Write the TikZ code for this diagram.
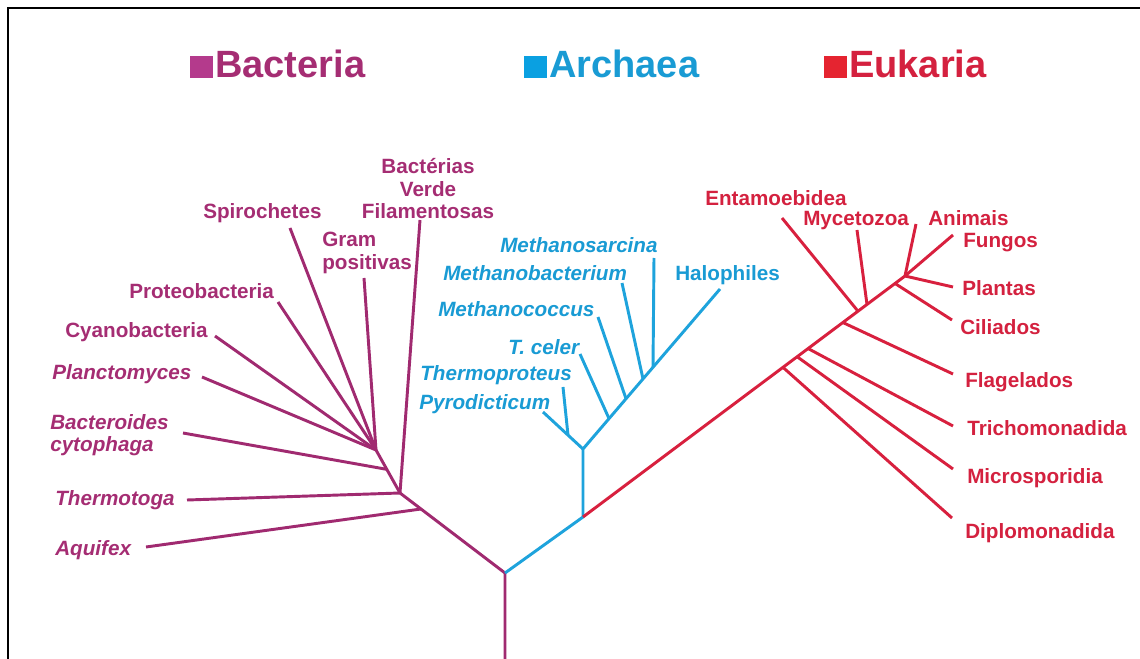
\documentclass[tikz,border=0pt]{standalone}
\usepackage{fontspec}
\setmainfont{Liberation Sans}
\usetikzlibrary{calc}
\definecolor{bact}{RGB}{160,42,112}
\definecolor{bactT}{RGB}{165,45,115}
\definecolor{bactSq}{RGB}{180,58,140}
\definecolor{arch}{RGB}{30,163,220}
\definecolor{archT}{RGB}{25,155,212}
\definecolor{archSq}{RGB}{10,160,225}
\definecolor{euk}{RGB}{216,32,62}
\definecolor{eukT}{RGB}{212,33,63}
\definecolor{eukSq}{RGB}{229,36,48}
\tikzset{
  branch/.style={line width=2.2pt},
  bline/.style={branch, draw=bact},
  aline/.style={branch, draw=arch},
  eline/.style={branch, draw=euk},
  lab/.style={font=\fontsize{15.5}{17}\selectfont\bfseries, inner sep=0pt,
              text height=11.1pt, text depth=0pt, anchor=west},
  mlab/.style={font=\fontsize{15.5}{17}\selectfont\bfseries, inner sep=0pt},
  ital/.style={font=\fontsize{15.5}{17}\selectfont\bfseries\itshape},
  blab/.style={lab, text=bactT},
  alab/.style={lab, text=archT},
  elab/.style={lab, text=eukT},
  title/.style={anchor=base west, inner sep=0pt, font=\fontsize{28.5}{30}\selectfont\bfseries}
}
\begin{document}
\begin{tikzpicture}[x=0.75pt,y=-0.75pt]
\useasboundingbox (0,0) rectangle (1140,659);
\fill[white] (0,0) rectangle (1140,659);
% frame
\draw[line width=2pt] (8,662) -- (8,8) -- (1142,8);

% titles
\node[title, text=bactT] (tB) at (190,78) {\textcolor{bactSq}{\rule{17.25pt}{16.5pt}}\hspace{1.5pt}Bacteria};
\node[title, text=archT] (tA) at (524,78) {\textcolor{archSq}{\rule{17.25pt}{16.5pt}}\hspace{1.5pt}Archaea};
\node[title, text=eukT] (tE) at (824,78) {\textcolor{eukSq}{\rule{17.25pt}{16.5pt}}\hspace{1.5pt}Eukaria};

% ---------- tree skeleton ----------
\coordinate (Rb) at (505,662);
\coordinate (R)  at (505,573);
\coordinate (B1) at (400,493);
\coordinate (B2) at (376,450);
\coordinate (J)  at (583,517);
\coordinate (A1) at (583,449);
\coordinate (H)  at (720,289);
\coordinate (P)  at (543,412);
\coordinate (E1) at (905,276);

\draw[bline] (Rb) -- (R) -- (B1) -- (B2);
\draw[aline] (R) -- (J) -- (A1) -- (H);
\draw[aline] (A1) -- (P);
\draw[eline] (J) -- (E1);

% ---------- Bacteria ----------
\node[mlab, text=bactT, align=center, anchor=north] (filam) at (428,158)
  {\fontsize{15.5}{15.75}\selectfont Bactérias\\Verde\\Filamentosas};
\node[blab] (spiro) at (203,211) {Spirochetes};
\node[mlab, text=bactT, align=left, anchor=north west] (gram) at (322,232)
  {\fontsize{15.5}{17.25}\selectfont Gram\\positivas};
\node[blab] (proteo) at (129,291) {Proteobacteria};
\node[blab] (cyano) at (65,330) {Cyanobacteria};
\node[blab, ital] (planc) at (52,372) {Planctomyces};
\node[mlab, text=bactT, ital, align=left, anchor=north west] (bacter) at (50,414)
  {\fontsize{15.5}{17.25}\selectfont\bfseries\itshape Bacteroides\\cytophaga};
\node[blab, ital] (thermotoga) at (55,498) {Thermotoga};
\node[blab, ital] (aquifex) at (55,548) {Aquifex};

\coordinate (lFilam) at (420,220);
\coordinate (lSpiro) at (290,228);
\coordinate (lGram) at (364,278);
\coordinate (lProteo) at (278,302);
\coordinate (lCyano) at (215,336);
\coordinate (lPlanc) at (202,377);
\coordinate (lBacter) at (183,433);
\coordinate (lThermotoga) at (187,500);
\coordinate (lAquifex) at (146,547);
\coordinate (jBacter) at ($(B2)!0.45!(B1)$);
\coordinate (jAquifex) at ($(R)!0.8!(B1)$);

\draw[bline] (lFilam) -- (B1);
\draw[bline] (lThermotoga) -- (B1);
\draw[bline] (lAquifex) -- (jAquifex);
\draw[bline] (lBacter) -- (jBacter);
\draw[bline] (lSpiro) -- (B2);
\draw[bline] (lGram) -- (B2);
\draw[bline] (lProteo) -- (B2);
\draw[bline] (lCyano) -- (B2);
\draw[bline] (lPlanc) -- (B2);

% ---------- Archaea ----------
\node[alab, ital] (msarc) at (500,245) {Methanosarcina};
\node[alab, ital] (mbact) at (443,273) {Methanobacterium};
\node[alab, ital] (mcocc) at (438,309) {Methanococcus};
\node[alab, ital] (tceler) at (508,347) {T. celer};
\node[alab, ital] (tprot) at (420,373) {Thermoproteus};
\node[alab, ital] (pyro) at (419,402) {Pyrodicticum};
\node[alab] (halo) at (675,273) {Halophiles};

\coordinate (lSarc) at (654,258);
\coordinate (lMbact) at (622,283);
\coordinate (lCocc) at (598,317);
\coordinate (lCeler) at (580,354);
\coordinate (lTprot) at (563,387);
\coordinate (jSarc) at ($(A1)!0.511!(H)$);
\coordinate (jMbact) at ($(A1)!0.438!(H)$);
\coordinate (jCocc) at ($(A1)!0.314!(H)$);
\coordinate (jCeler) at ($(A1)!0.19!(H)$);
\coordinate (jTprot) at ($(A1)!0.375!(P)$);

\draw[aline] (lSarc) -- (jSarc);
\draw[aline] (lMbact) -- (jMbact);
\draw[aline] (lCocc) -- (jCocc);
\draw[aline] (lCeler) -- (jCeler);
\draw[aline] (lTprot) -- (jTprot);

% ---------- Eukaria ----------
\node[elab] (entam) at (705,198) {Entamoebidea};
\node[elab] (myce) at (803,218) {Mycetozoa};
\node[elab] (anim) at (928,218) {Animais};
\node[elab] (fung) at (963,240) {Fungos};
\node[elab] (plant) at (962,288) {Plantas};
\node[elab] (cilia) at (960,327) {Ciliados};
\node[elab] (flag) at (965,380) {Flagelados};
\node[elab] (trich) at (967,428) {Trichomonadida};
\node[elab] (micro) at (967,476) {Microsporidia};
\node[elab] (diplo) at (965,531) {Diplomonadida};

\coordinate (lEntam) at (782,218);
\coordinate (lMyce) at (857,230);
\coordinate (lAnim) at (916,224);
\coordinate (lFung) at (953,235);
\coordinate (lPlant) at (953,287);
\coordinate (lCilia) at (952,320);
\coordinate (lFlag) at (953,374);
\coordinate (lTrich) at (953,426);
\coordinate (lMicro) at (953,469);
\coordinate (lDiplo) at (952,518);
\coordinate (jEntam) at ($(J)!0.854!(E1)$);
\coordinate (jMyce) at ($(J)!0.882!(E1)$);
\coordinate (jCilia) at ($(J)!0.969!(E1)$);
\coordinate (jFlag) at ($(J)!0.807!(E1)$);
\coordinate (jTrich) at ($(J)!0.699!(E1)$);
\coordinate (jMicro) at ($(J)!0.665!(E1)$);
\coordinate (jDiplo) at ($(J)!0.621!(E1)$);

\draw[eline] (lEntam) -- (jEntam);
\draw[eline] (lMyce) -- (jMyce);
\draw[eline] (lAnim) -- (E1);
\draw[eline] (lFung) -- (E1);
\draw[eline] (lPlant) -- (E1);
\draw[eline] (lCilia) -- (jCilia);
\draw[eline] (lFlag) -- (jFlag);
\draw[eline] (lTrich) -- (jTrich);
\draw[eline] (lMicro) -- (jMicro);
\draw[eline] (lDiplo) -- (jDiplo);
\end{tikzpicture}
\end{document}
